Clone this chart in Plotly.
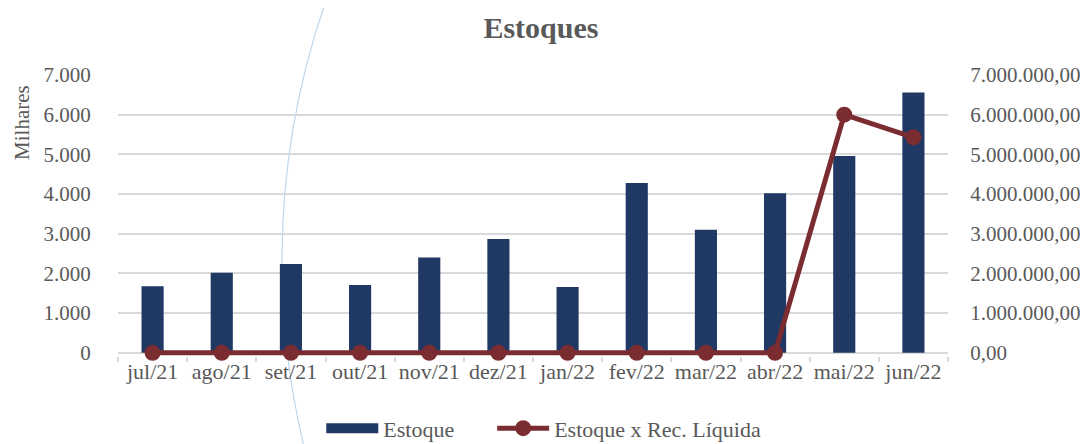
import plotly.graph_objects as go

categories = ["jul/21", "ago/21", "set/21", "out/21", "nov/21", "dez/21",
              "jan/22", "fev/22", "mar/22", "abr/22", "mai/22", "jun/22"]
estoque = [1680, 2015, 2240, 1710, 2400, 2870, 1660, 4280, 3100, 4020, 4960, 6560]
estoque_rec = [0, 0, 0, 0, 0, 0, 0, 0, 0, 0, 6000000, 5430000]
left_ticks = [0, 1000, 2000, 3000, 4000, 5000, 6000, 7000]
right_ticks = [0, 1000000, 2000000, 3000000, 4000000, 5000000, 6000000, 7000000]

FONT = "Liberation Serif"
GRAY = "#595959"
NAVY = "#203864"
MAROON = "#7B2C31"
NBSP = "\u00a0"

fig = go.Figure()
fig.add_trace(go.Bar(
    x=categories, y=estoque, name="Estoque", showlegend=False,
    marker=dict(color=NAVY, line=dict(width=0)),
    width=0.32, yaxis="y",
))
# legend entry for the bars (wide swatch like the original)
fig.add_trace(go.Scatter(
    x=[categories[0]], y=[None], name="Estoque" + NBSP * 6, mode="lines",
    line=dict(color=NAVY, width=13), yaxis="y",
))
fig.add_trace(go.Scatter(
    x=categories, y=estoque_rec, name="Estoque x Rec. Líquida",
    mode="lines+markers", yaxis="y2", cliponaxis=False,
    line=dict(color=MAROON, width=5),
    marker=dict(color=MAROON, size=16),
))

fig.update_layout(
    width=1080, height=436,
    margin=dict(l=110, r=140, t=67, b=87.82, autoexpand=False),
    paper_bgcolor="white", plot_bgcolor="rgba(0,0,0,0)",
    font=dict(family=FONT, color=GRAY, size=21),
    title=dict(text="<b>Estoques</b>", xref="paper", x=0.5096, xanchor="center",
               y=0.956, yanchor="middle", automargin=False,
               font=dict(family=FONT, size=30, color=GRAY)),
    showlegend=True,
    legend=dict(orientation="h", x=0.513, xanchor="center", y=-0.2576, yanchor="middle",
                font=dict(family=FONT, size=22, color=GRAY), itemwidth=52,
                traceorder="normal"),
    xaxis=dict(
        type="category", range=[-0.5, 11.5], showgrid=False, showline=False,
        ticks="outside", tickson="boundaries", ticklen=5, tickcolor="#D9D9D9",
        tickwidth=1.5, ticklabelstandoff=0, automargin=False, tickangle=0,
        tickfont=dict(family=FONT, size=22, color=GRAY),
    ),
    yaxis=dict(
        range=[-80, 7000], tickvals=left_ticks, tickformat=",d",
        showgrid=True, gridcolor="#D9D9D9", gridwidth=1.5,
        zeroline=True, zerolinecolor="#D9D9D9", zerolinewidth=1.5,
        layer="below traces",
        ticks="outside", ticklen=22, tickcolor="rgba(0,0,0,0)", automargin=False,
        tickfont=dict(family=FONT, size=21, color=GRAY),
    ),
    yaxis2=dict(
        range=[-80000, 7000000], tickvals=right_ticks, tickformat=",.2f",
        overlaying="y", side="right", showgrid=False, zeroline=False,
        layer="below traces",
        ticks="outside", ticklen=17, tickcolor="rgba(0,0,0,0)", automargin=False,
        tickfont=dict(family=FONT, size=21, color=GRAY),
    ),
    separators=",.",
    shapes=[dict(type="circle", xref="paper", yref="paper",
                 x0=0.1976, x1=2.106, y0=-2.478, y1=3.155,
                 line=dict(color="#BDD7EE", width=1.2), layer="below")],
    annotations=[dict(text="Milhares", textangle=-90, xref="paper", yref="paper",
                      x=-0.1157, y=0.8329, xanchor="center", yanchor="middle",
                      showarrow=False, font=dict(family=FONT, size=21, color=GRAY))],
)

fig.write_html("out.html")
